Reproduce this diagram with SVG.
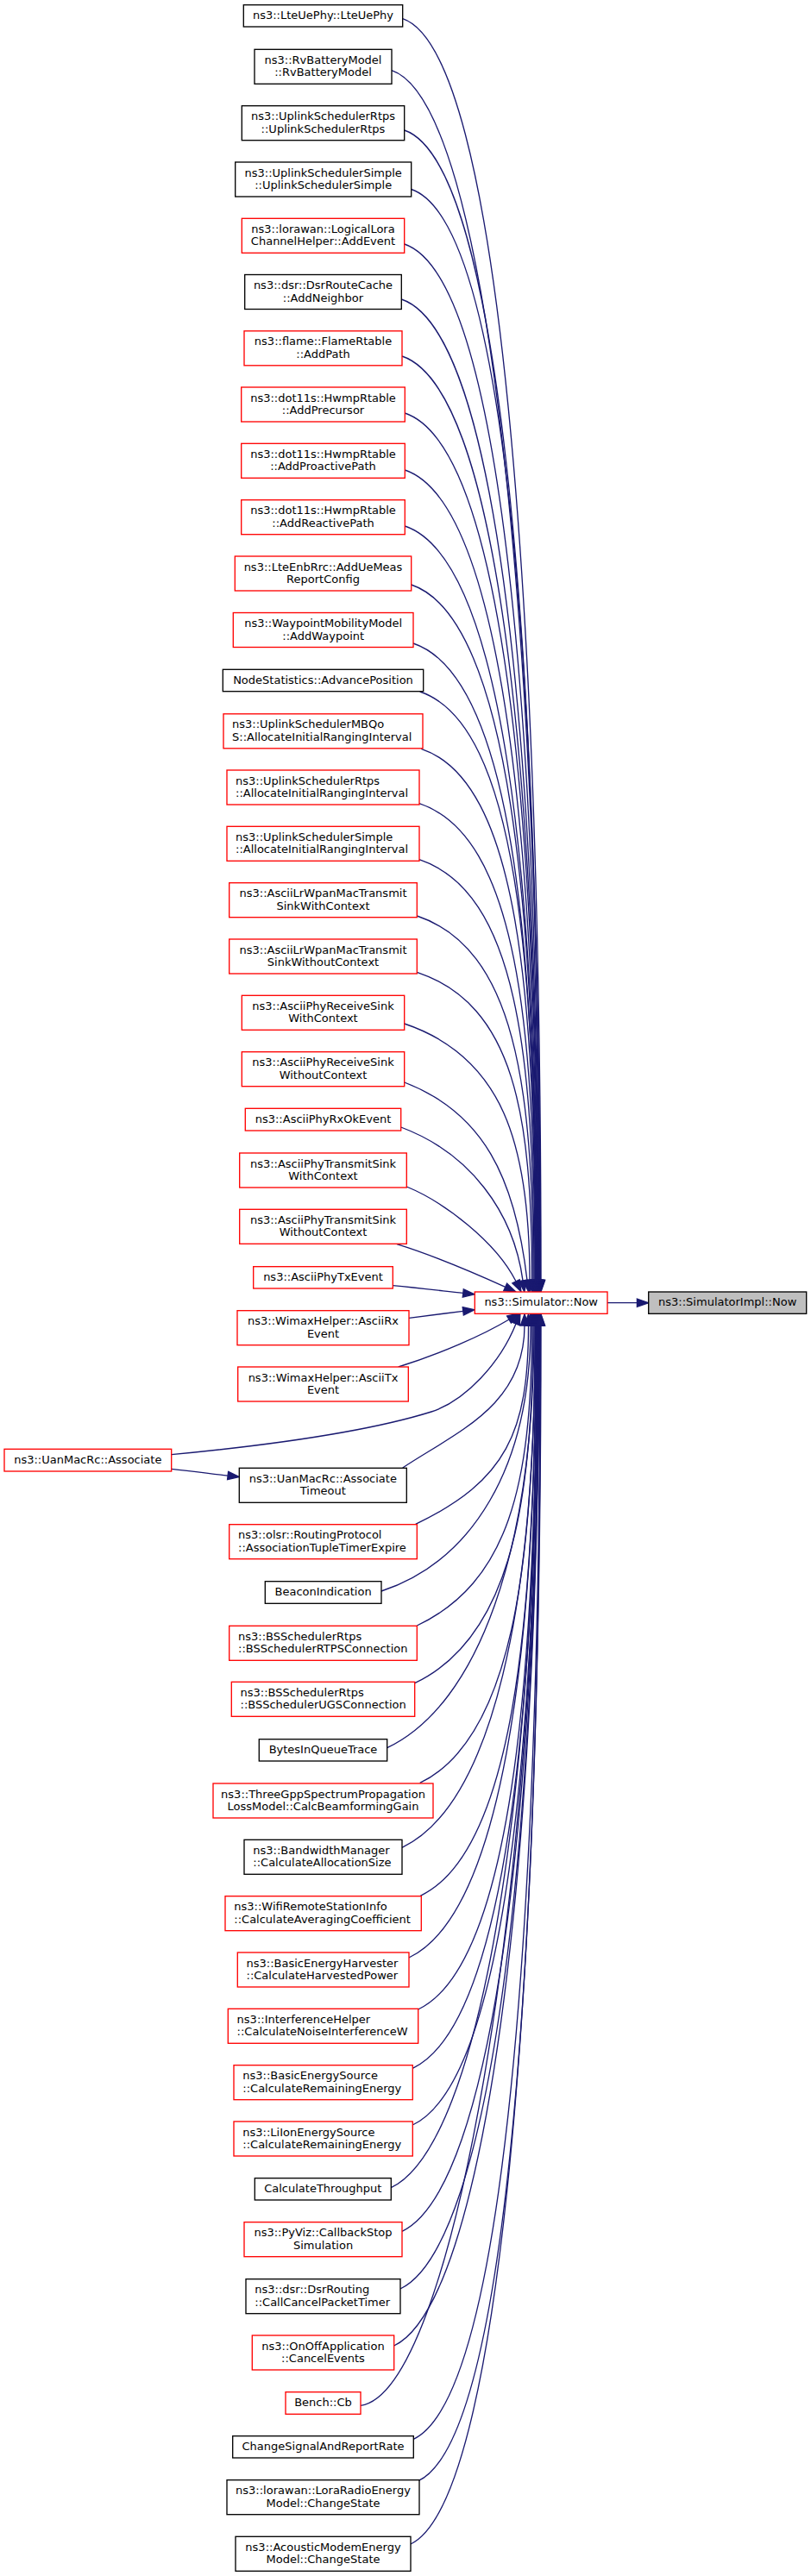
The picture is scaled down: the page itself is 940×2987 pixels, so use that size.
<svg xmlns="http://www.w3.org/2000/svg" width="940" height="2987" viewBox="0 0 940 2987">
<defs>
<style>
.bk rect{fill:#ffffff;stroke:#000000;stroke-width:1.33}
.rd rect{fill:#ffffff;stroke:#ff0000;stroke-width:1.33}
.gr rect{fill:#bfbfbf;stroke:#000000;stroke-width:1.33}
text{font-family:"DejaVu Sans","Liberation Sans",sans-serif;font-size:13px;fill:#000000}
.c text{text-anchor:middle}
.l text{text-anchor:start}
#edges path{fill:none;stroke:#191970;stroke-width:1.33;marker-end:url(#arr)}
</style>
<marker id="arr" markerUnits="userSpaceOnUse" markerWidth="16" markerHeight="12" viewBox="0 0 16 12" refX="1" refY="6" orient="auto" overflow="visible">
<path d="M1,1.33 L14.3,6 L1,10.67 Z" fill="#191970" stroke="#191970" stroke-width="1.33"/>
</marker>
</defs>
<rect x="0" y="0" width="940" height="2987" fill="#ffffff"/>
<g id="edges">
<path d="M466.7,21.7 C579.7,59.7 627,700.4 627,1484.5"/>
<path d="M454,81.7 C567,119.7 626.5,732.6 626.5,1484.5"/>
<path d="M468.7,151 C581.7,189 626,769.7 626,1484.5"/>
<path d="M476.7,219.5 C589.7,257.5 625.5,806.5 625.5,1484.5"/>
<path d="M468.7,283 C581.7,321 625,840.5 625,1484.5"/>
<path d="M465.3,347 C578.3,385 624.5,874.8 624.5,1484.5"/>
<path d="M466,413 C579,451 624,910.2 624,1484.5"/>
<path d="M469.3,479 C582.3,517 623.5,945.6 623.5,1484.5"/>
<path d="M469.3,545 C582.3,583 623,980.9 623,1484.5"/>
<path d="M469.3,610 C582.3,648 622.5,1015.8 622.5,1484.5"/>
<path d="M476.7,678 C589.7,716 622,1052.2 622,1484.5"/>
<path d="M479,746 C592,784 621.5,1088.7 621.5,1484.5"/>
<path d="M486.7,802 C599.7,840 621,1118.7 621,1484.5"/>
<path d="M488.3,868.3 C601.3,906.3 620.5,1154.2 620.5,1484.5"/>
<path d="M486,931.7 C599,969.7 620,1188.2 620,1484.5"/>
<path d="M486,996.7 C599,1034.7 619,1223 619,1484.5"/>
<path d="M483.3,1062 C596.3,1100 618,1258 618,1484.5"/>
<path d="M483.3,1127.3 C596.3,1165.3 616.5,1293 616.5,1484.5"/>
<path d="M468.7,1187 C581.7,1225 614,1325 614,1484.5"/>
<path d="M468.7,1255 C560,1290 597,1365 611,1484.6"/>
<path d="M464.7,1307 C544.7,1337 595,1405 606,1484.8"/>
<path d="M471.3,1376 C515,1394 575,1440 598,1485.8"/>
<path d="M460,1442.7 C500,1455 545,1474 585.7,1492.4"/>
<path d="M455.3,1490.7 C485,1493.5 510,1496.5 536.8,1499.4"/>
<path d="M474,1528.3 C500,1525 515,1523 536.8,1520.4"/>
<path d="M461.7,1585 C510,1570 560,1548 590,1530"/>
<path d="M198.7,1686.7 C300,1677 420,1662 500,1637 C540,1624 580,1580 598,1535"/>
<path d="M198.7,1703.3 C225,1706 245,1709 264.1,1711.1"/>
<path d="M466.7,1702 C530,1660 608,1630 608,1537"/>
<path d="M481.7,1767.3 C586.7,1717.3 612.5,1660.4 612.5,1537"/>
<path d="M442,1845 C547,1810 615,1702.1 615,1537"/>
<path d="M483.3,1885 C588.3,1835 616.5,1723.5 616.5,1537"/>
<path d="M480.7,1951.7 C585.7,1901.7 618,1759.3 618,1537"/>
<path d="M448.7,2026.7 C553.7,1976.7 619,1799.5 619,1537"/>
<path d="M486.7,2067.3 C591.7,2017.3 620,1821.2 620,1537"/>
<path d="M466,2142.3 C571,2092.3 620.5,1861.4 620.5,1537"/>
<path d="M487.3,2198.3 C592.3,2148.3 621,1891.5 621,1537"/>
<path d="M474,2270 C579,2220 621.5,1929.9 621.5,1537"/>
<path d="M484.7,2330 C589.7,2280 622,1962 622,1537"/>
<path d="M478.3,2398.3 C583.3,2348.3 622.5,1998.7 622.5,1537"/>
<path d="M478.3,2464 C583.3,2414 623,2033.9 623,1537"/>
<path d="M453.3,2536.7 C558.3,2486.7 623.5,2072.8 623.5,1537"/>
<path d="M466,2587.3 C571,2537.3 624,2100 624,1537"/>
<path d="M464,2654 C569,2604 624.5,2135.7 624.5,1537"/>
<path d="M456.7,2720 C561.7,2670 625,2171.1 625,1537"/>
<path d="M418,2789.3 C523,2774.3 625.5,2208.2 625.5,1537"/>
<path d="M479.3,2828.3 C584.3,2778.3 626,2229.1 626,1537"/>
<path d="M485,2876.7 C590,2826.7 626.5,2255.1 626.5,1537"/>
<path d="M476,2950 C581,2900 627,2294.4 627,1537"/>
<path d="M704,1510.7 L738.4,1510.7"/>
</g>
<g id="n1" class="bk c"><rect x="282.3" y="5.7" width="184.4" height="25.3"/><text x="374.5" y="22">ns3::LteUePhy::LteUePhy</text></g>
<g id="n2" class="bk c"><rect x="295" y="57.3" width="159" height="40"/><text x="374.5" y="73.8">ns3::RvBatteryModel</text><text x="374.5" y="88.3">::RvBatteryModel</text></g>
<g id="n3" class="bk c"><rect x="280.3" y="122.7" width="188.4" height="40"/><text x="374.5" y="139.2">ns3::UplinkSchedulerRtps</text><text x="374.5" y="153.7">::UplinkSchedulerRtps</text></g>
<g id="n4" class="bk c"><rect x="272.7" y="188" width="204" height="40"/><text x="374.7" y="204.5">ns3::UplinkSchedulerSimple</text><text x="374.7" y="219">::UplinkSchedulerSimple</text></g>
<g id="n5" class="rd c"><rect x="280.3" y="253.3" width="188.4" height="40"/><text x="374.5" y="269.8">ns3::lorawan::LogicalLora</text><text x="374.5" y="284.3">ChannelHelper::AddEvent</text></g>
<g id="n6" class="bk c"><rect x="283.7" y="318.5" width="181.6" height="40"/><text x="374.5" y="335">ns3::dsr::DsrRouteCache</text><text x="374.5" y="349.5">::AddNeighbor</text></g>
<g id="n7" class="rd c"><rect x="283" y="383.8" width="183" height="40"/><text x="374.5" y="400.3">ns3::flame::FlameRtable</text><text x="374.5" y="414.8">::AddPath</text></g>
<g id="n8" class="rd c"><rect x="279.7" y="449" width="189.6" height="40"/><text x="374.5" y="465.5">ns3::dot11s::HwmpRtable</text><text x="374.5" y="480">::AddPrecursor</text></g>
<g id="n9" class="rd c"><rect x="279.7" y="514.3" width="189.6" height="40"/><text x="374.5" y="530.8">ns3::dot11s::HwmpRtable</text><text x="374.5" y="545.3">::AddProactivePath</text></g>
<g id="n10" class="rd c"><rect x="279.7" y="579.7" width="189.6" height="40"/><text x="374.5" y="596.2">ns3::dot11s::HwmpRtable</text><text x="374.5" y="610.7">::AddReactivePath</text></g>
<g id="n11" class="rd c"><rect x="272.3" y="645" width="204.4" height="40"/><text x="374.5" y="661.5">ns3::LteEnbRrc::AddUeMeas</text><text x="374.5" y="676">ReportConfig</text></g>
<g id="n12" class="rd c"><rect x="270.3" y="710.5" width="208.7" height="40"/><text x="374.7" y="727">ns3::WaypointMobilityModel</text><text x="374.7" y="741.5">::AddWaypoint</text></g>
<g id="n13" class="bk c"><rect x="258.3" y="776.3" width="232.4" height="25.4"/><text x="374.5" y="792.6">NodeStatistics::AdvancePosition</text></g>
<g id="n14" class="rd l"><rect x="259" y="827.8" width="231" height="40"/><text x="269" y="844.3">ns3::UplinkSchedulerMBQo</text><text x="269" y="858.8">S::AllocateInitialRangingInterval</text></g>
<g id="n15" class="rd l"><rect x="263" y="893" width="223" height="40"/><text x="273" y="909.5">ns3::UplinkSchedulerRtps</text><text x="273" y="924">::AllocateInitialRangingInterval</text></g>
<g id="n16" class="rd l"><rect x="263" y="958.3" width="223" height="40"/><text x="273" y="974.8">ns3::UplinkSchedulerSimple</text><text x="273" y="989.3">::AllocateInitialRangingInterval</text></g>
<g id="n17" class="rd c"><rect x="265.7" y="1023.7" width="217.6" height="40"/><text x="374.5" y="1040.2">ns3::AsciiLrWpanMacTransmit</text><text x="374.5" y="1054.7">SinkWithContext</text></g>
<g id="n18" class="rd c"><rect x="265.7" y="1089" width="217.6" height="40"/><text x="374.5" y="1105.5">ns3::AsciiLrWpanMacTransmit</text><text x="374.5" y="1120">SinkWithoutContext</text></g>
<g id="n19" class="rd c"><rect x="280.3" y="1154.3" width="188.4" height="40"/><text x="374.5" y="1170.8">ns3::AsciiPhyReceiveSink</text><text x="374.5" y="1185.3">WithContext</text></g>
<g id="n20" class="rd c"><rect x="280.3" y="1219.7" width="188.4" height="40"/><text x="374.5" y="1236.2">ns3::AsciiPhyReceiveSink</text><text x="374.5" y="1250.7">WithoutContext</text></g>
<g id="n21" class="rd c"><rect x="284.3" y="1285.3" width="180.4" height="25.7"/><text x="374.5" y="1301.6">ns3::AsciiPhyRxOkEvent</text></g>
<g id="n22" class="rd c"><rect x="277.7" y="1337" width="193.6" height="40"/><text x="374.5" y="1353.5">ns3::AsciiPhyTransmitSink</text><text x="374.5" y="1368">WithContext</text></g>
<g id="n23" class="rd c"><rect x="277.7" y="1402.3" width="193.6" height="40"/><text x="374.5" y="1418.8">ns3::AsciiPhyTransmitSink</text><text x="374.5" y="1433.3">WithoutContext</text></g>
<g id="n24" class="rd c"><rect x="293.7" y="1468.7" width="161.6" height="25.3"/><text x="374.5" y="1485">ns3::AsciiPhyTxEvent</text></g>
<g id="n25" class="rd c"><rect x="275" y="1519.7" width="199" height="40"/><text x="374.5" y="1536.2">ns3::WimaxHelper::AsciiRx</text><text x="374.5" y="1550.7">Event</text></g>
<g id="n26" class="rd c"><rect x="275.7" y="1585" width="197.6" height="40"/><text x="374.5" y="1601.5">ns3::WimaxHelper::AsciiTx</text><text x="374.5" y="1616">Event</text></g>
<g id="n27" class="rd c"><rect x="5" y="1680.3" width="193.7" height="25.7"/><text x="101.8" y="1696.6">ns3::UanMacRc::Associate</text></g>
<g id="n28" class="bk c"><rect x="277.3" y="1702.3" width="194" height="40"/><text x="374.3" y="1718.8">ns3::UanMacRc::Associate</text><text x="374.3" y="1733.3">Timeout</text></g>
<g id="n29" class="rd l"><rect x="265.7" y="1767.7" width="217.6" height="40"/><text x="276" y="1784.2">ns3::olsr::RoutingProtocol</text><text x="276" y="1798.7">::AssociationTupleTimerExpire</text></g>
<g id="n30" class="bk c"><rect x="307.3" y="1833.7" width="134.7" height="25.6"/><text x="374.6" y="1850">BeaconIndication</text></g>
<g id="n31" class="rd l"><rect x="265.7" y="1885.3" width="217.6" height="40"/><text x="276" y="1901.8">ns3::BSSchedulerRtps</text><text x="276" y="1916.3">::BSSchedulerRTPSConnection</text></g>
<g id="n32" class="rd l"><rect x="268.3" y="1950.3" width="212.4" height="40"/><text x="278.5" y="1966.8">ns3::BSSchedulerRtps</text><text x="278.5" y="1981.3">::BSSchedulerUGSConnection</text></g>
<g id="n33" class="bk c"><rect x="300.3" y="2016.7" width="148.4" height="25.3"/><text x="374.5" y="2033">BytesInQueueTrace</text></g>
<g id="n34" class="rd c"><rect x="247" y="2068" width="255" height="40"/><text x="374.5" y="2084.5">ns3::ThreeGppSpectrumPropagation</text><text x="374.5" y="2099">LossModel::CalcBeamformingGain</text></g>
<g id="n35" class="bk l"><rect x="283" y="2133.3" width="183" height="40"/><text x="293.3" y="2149.8">ns3::BandwidthManager</text><text x="293.3" y="2164.3">::CalculateAllocationSize</text></g>
<g id="n36" class="rd l"><rect x="261" y="2198.7" width="227.3" height="40"/><text x="271.3" y="2215.2">ns3::WifiRemoteStationInfo</text><text x="271.3" y="2229.7">::CalculateAveragingCoefficient</text></g>
<g id="n37" class="rd l"><rect x="275.3" y="2264" width="198.7" height="40"/><text x="285.5" y="2280.5">ns3::BasicEnergyHarvester</text><text x="285.5" y="2295">::CalculateHarvestedPower</text></g>
<g id="n38" class="rd l"><rect x="264.3" y="2329.3" width="220.4" height="40"/><text x="274.6" y="2345.8">ns3::InterferenceHelper</text><text x="274.6" y="2360.3">::CalculateNoiseInterferenceW</text></g>
<g id="n39" class="rd l"><rect x="271" y="2394.7" width="207.3" height="40"/><text x="281.3" y="2411.2">ns3::BasicEnergySource</text><text x="281.3" y="2425.7">::CalculateRemainingEnergy</text></g>
<g id="n40" class="rd l"><rect x="271" y="2460" width="207.3" height="40"/><text x="281.3" y="2476.5">ns3::LiIonEnergySource</text><text x="281.3" y="2491">::CalculateRemainingEnergy</text></g>
<g id="n41" class="bk c"><rect x="295.3" y="2525.7" width="158" height="25.3"/><text x="374.3" y="2542">CalculateThroughput</text></g>
<g id="n42" class="rd c"><rect x="283" y="2576.7" width="183" height="40"/><text x="374.5" y="2593.2">ns3::PyViz::CallbackStop</text><text x="374.5" y="2607.7">Simulation</text></g>
<g id="n43" class="bk l"><rect x="285" y="2642.7" width="179" height="40"/><text x="295.3" y="2659.2">ns3::dsr::DsrRouting</text><text x="295.3" y="2673.7">::CallCancelPacketTimer</text></g>
<g id="n44" class="rd c"><rect x="292.3" y="2708" width="164.4" height="40"/><text x="374.5" y="2724.5">ns3::OnOffApplication</text><text x="374.5" y="2739">::CancelEvents</text></g>
<g id="n45" class="rd c"><rect x="331" y="2773.7" width="87" height="25.6"/><text x="374.5" y="2790">Bench::Cb</text></g>
<g id="n46" class="bk c"><rect x="269.7" y="2824.7" width="209.6" height="25.3"/><text x="374.5" y="2841">ChangeSignalAndReportRate</text></g>
<g id="n47" class="bk c"><rect x="263" y="2875.7" width="223" height="40"/><text x="374.5" y="2892.2">ns3::lorawan::LoraRadioEnergy</text><text x="374.5" y="2906.7">Model::ChangeState</text></g>
<g id="n48" class="bk c"><rect x="273" y="2941.3" width="203" height="40"/><text x="374.5" y="2957.8">ns3::AcousticModemEnergy</text><text x="374.5" y="2972.3">Model::ChangeState</text></g>
<g id="n49" class="rd c"><rect x="550.3" y="1498" width="153.7" height="25.3"/><text x="627.2" y="1514.3">ns3::Simulator::Now</text></g>
<g id="n50" class="gr c"><rect x="751.7" y="1498" width="183" height="25.3"/><text x="843.2" y="1514.3">ns3::SimulatorImpl::Now</text></g>
</svg>
